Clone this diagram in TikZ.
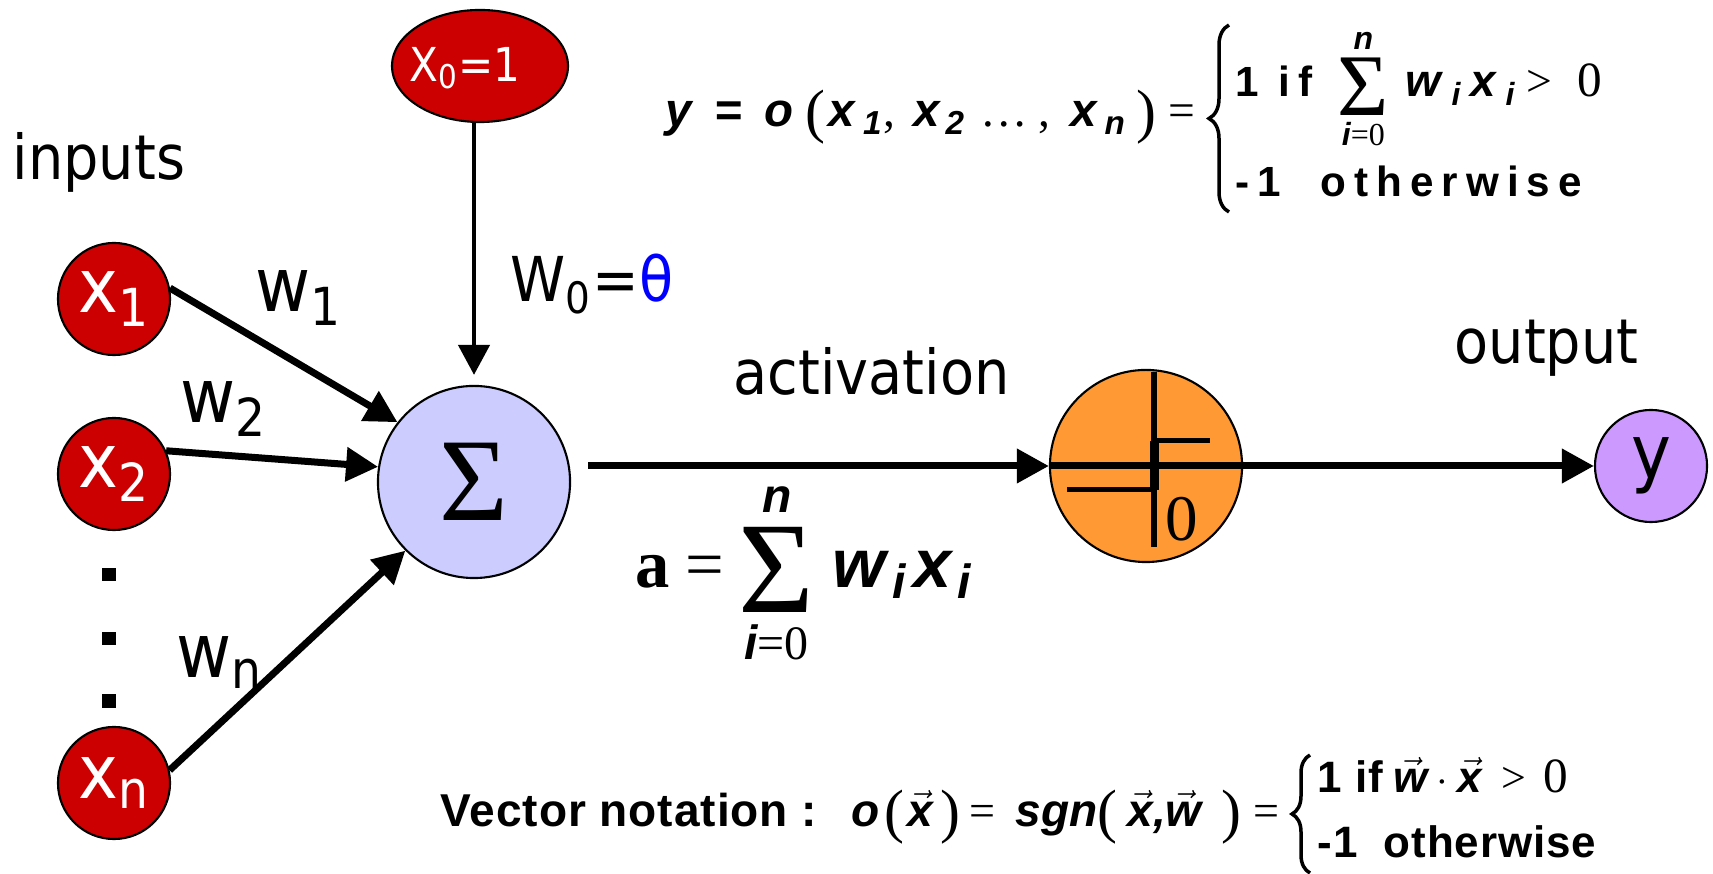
\documentclass[tikz,border=0pt]{standalone}
\usepackage{amsmath}
\usepackage[no-math]{fontspec}
\setmainfont{DejaVu Sans}[FakeStretch=0.9]
\newfontfamily\arial{Liberation Sans}
\newfontfamily\arialls{Liberation Sans}[LetterSpace=2]
\newfontfamily\arialsp{Liberation Sans}[LetterSpace=19]
\newfontfamily\serf{Liberation Serif}
\usetikzlibrary{arrows.meta,shapes.geometric,decorations.pathreplacing}

\definecolor{inred}{HTML}{CC0000}
\definecolor{sumblue}{HTML}{CCCCFF}
\definecolor{actorange}{HTML}{FF9933}
\definecolor{outpurple}{HTML}{CC99FF}
\definecolor{thetablue}{HTML}{0000FF}

% letters of the formulas
\newcommand{\bi}[1]{\text{\arial\bfseries\itshape #1}}
\newcommand{\sr}[1]{\text{\serf #1}}
\newcommand{\bpar}[1]{\text{\raisebox{-0.45mm}{\fontsize{17pt}{17pt}\serf #1}}}
\newcommand{\sigm}[1]{\mathop{\vcenter{\hbox{\fontsize{#1}{#1}\serf Σ}}}\limits}

\begin{document}
\begin{tikzpicture}[x=0.01cm, y=-0.01cm,
    innode/.style={circle, draw, fill=inred, text=white, minimum size=1.12cm,
      inner sep=0pt, line width=0.6pt, font=\fontsize{21.3pt}{25pt}\selectfont},
    bias/.style={ellipse, draw, fill=inred, minimum width=1.76cm,
      minimum height=1.12cm, inner sep=0pt, line width=0.6pt},
    unit/.style={circle, draw, minimum size=1.92cm, inner sep=0pt, line width=0.6pt},
    lbl/.style={font=\fontsize{17.6pt}{21pt}\selectfont, inner sep=0pt, anchor=base west},
    wlbl/.style={font=\fontsize{21.3pt}{25pt}\selectfont, inner sep=0pt, anchor=base west},
    eqn/.style={inner sep=0pt, anchor=base west},
    curly/.style={decorate, decoration={brace, amplitude=#1}, line width=0.35mm},
    arr/.style={-{Triangle[length=3.2mm,width=3.3mm]}, line width=0.7mm},
    arrthin/.style={-{Triangle[length=3mm,width=3.1mm]}, line width=0.45mm},
    dotsq/.style={fill=black, minimum size=1.3mm, inner sep=0pt},
  ]
  \useasboundingbox (0,0) rectangle (1713,874);

  % inputs
  \node[bias] (x0) at (480,66) {};
  \node[text=white, inner sep=0pt, font=\fontsize{13.3pt}{15pt}\selectfont] (x0txt) at (465,68)
    {X\textsubscript{0}=1};
  \node[innode] (x1) at (114,299) {x\textsubscript{1}};
  \node[innode] (x2) at (114,474) {x\textsubscript{2}};
  \node[innode] (xn) at (114,783) {x\textsubscript{n}};
  \foreach \i/\yy in {1/575,2/639,3/701}
    \node[dotsq] (dot\i) at (109,\yy) {};

  % units
  \node[unit, fill=sumblue, font=\fontsize{33.6pt}{34pt}\selectfont\serf] (sum) at (474,482) {Σ};
  \node[unit, fill=actorange] (act) at (1146,466) {};
  \node[circle, draw, fill=outpurple, minimum size=1.12cm, inner sep=0pt, line width=0.6pt,
    font=\fontsize{21.3pt}{25pt}\selectfont] (y) at (1651,466) {y};

  % step function
  \draw[line width=0.7mm] (act.west) -- (act.east);
  \begin{scope}[shift={(act.center)}]
    \draw[line width=0.6mm] (8,-94) -- (8,81);
    \draw[line width=0.5mm] (8,-25) -- (64,-25);
    \draw[line width=0.5mm] (-79,24) -- (8,24);
    \draw[line width=0.9mm] (8,-25) -- (8,24);
    \node[font=\fontsize{18.5pt}{19pt}\selectfont\serf, inner sep=0pt] (zero) at (36,53) {0};
  \end{scope}

  % connectors
  \draw[arrthin, shorten >=1mm] (x0.south -| sum.north) -- (sum.north);
  \draw[arr] (x1.11) -- (sum.142);
  \draw[arr] (x2.24) -- (sum.171);
  \draw[arr] (xn.13) -- (sum.225);
  \draw[arr, shorten <=1.7mm] (sum.east |- act.west) -- (act.west);
  \draw[arr] (act.east) -- (y.west);

  % labels
  \node[lbl] (inputs) at (12,180) {inputs};
  \node[wlbl] (w1) at (255,312) {w\textsubscript{1}};
  \node[wlbl] (w2) at (180,423) {w\textsubscript{2}};
  \node[wlbl] (wn) at (176,678) {w\textsubscript{n}};
  \node[lbl] (w0) at (510,302) {W\textsubscript{0}=\textcolor{thetablue}{θ}};
  \node[lbl] (actlbl) at (733,395) {activation};
  \node[lbl] (outlbl) at (1454,364) {output};

  % formulas
  \node[eqn, font=\fontsize{13.5pt}{16pt}\selectfont] (yfun) at (665,127)
    {$\bi{y}\hspace{2.2mm}\bi{=}\hspace{2.3mm}\bi{o}\hspace{1.2mm}\bpar{(}\hspace{0.3mm}\bi{x}_{\hspace{0.8mm}\bi{1}}\sr{,}\hspace{1.8mm}\bi{x}_{\hspace{0.6mm}\bi{2}}\hspace{1.5mm}\sr{…}\hspace{1mm}\sr{,}\hspace{2mm}\bi{x}_{\hspace{0.8mm}\bi{n}}\hspace{1mm}\bpar{)}\hspace{1.2mm}\sr{=}$};
  \draw[curly=2mm] (1229,212) -- (1229,25);
  \node[eqn, font=\fontsize{13pt}{15pt}\selectfont] (trow1) at (1235,97)
    {$\text{\fontsize{12pt}{14pt}\arialsp\bfseries 1 if}\hspace{1.8mm}\sigm{25pt}_{\bi{i}\sr{=0}}^{\bi{n}}\hspace{1mm}\bi{w}_{\hspace{1mm}\bi{i}}\hspace{0.8mm}\bi{x}_{\hspace{1mm}\bi{i}}\hspace{1mm}\sr{>}\hspace{2.5mm}\text{\fontsize{14pt}{14pt}\serf 0}$};
  \node[eqn, font=\fontsize{12pt}{14pt}\selectfont\arialsp\bfseries] (trow2) at (1235,197)
    {-1\ \ otherwise};

  \node[eqn, font=\fontsize{19.5pt}{23pt}\selectfont] (asum) at (635,588)
    {$\text{\serf\bfseries a}\hspace{1.5mm}\sr{=}\hspace{0.3mm}\sigm{37pt}_{\bi{i}\sr{=0}}^{\bi{n}}\hspace{0.6mm}\bi{w}_{\hspace{0.6mm}\bi{i}}\hspace{0.6mm}\bi{x}_{\hspace{0.6mm}\bi{i}}$};

  \node[eqn, font=\fontsize{13.1pt}{16pt}\selectfont] (vecnot) at (440,827)
    {{\arialls\bfseries Vector notation :}\hspace{3.4mm}$\bi{o}\hspace{0.5mm}\bpar{(}\hspace{0.3mm}\vec{\bi{x}}\hspace{0.8mm}\bpar{)}\hspace{0.9mm}\sr{=}\hspace{2mm}\bi{sgn}\bpar{(}\hspace{1mm}\vec{\bi{x}}\bi{,}\vec{\bi{w}}\hspace{2mm}\bpar{)}\hspace{1.2mm}\sr{=}$};
  \draw[curly=1.8mm] (1310,873) -- (1310,755);
  \node[eqn, font=\fontsize{12.5pt}{15pt}\selectfont] (brow1) at (1317,793)
    {$\text{\arialls\bfseries 1 if}\hspace{1mm}\vec{\bi{w}}\cdot\vec{\bi{x}}\hspace{0.8mm}\mathrel{\sr{>}}\hspace{0.5mm}\text{\fontsize{14pt}{14pt}\serf 0}$};
  \node[eqn, font=\fontsize{12.5pt}{15pt}\selectfont\arialls\bfseries] (brow2) at (1317,857)
    {-1\ \ otherwise};
\end{tikzpicture}
\end{document}
